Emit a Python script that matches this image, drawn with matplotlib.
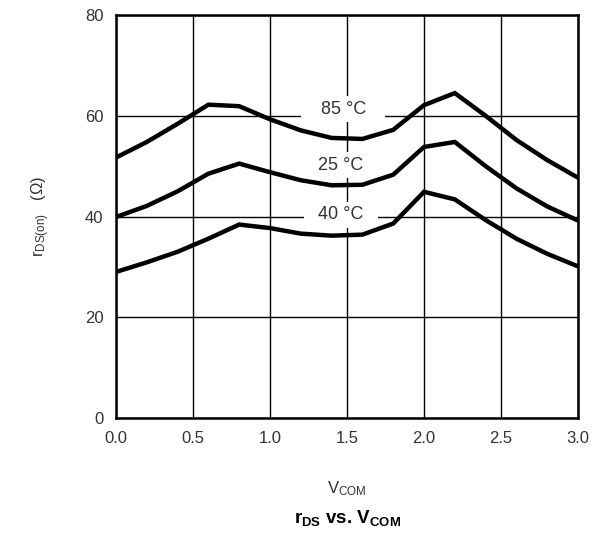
import matplotlib
matplotlib.use("Agg")
import matplotlib.pyplot as plt

plt.rcParams['font.family'] = ['Liberation Sans', 'DejaVu Sans']
plt.rcParams['mathtext.fontset'] = 'custom'
plt.rcParams['mathtext.rm'] = 'Liberation Sans'
plt.rcParams['mathtext.it'] = 'Liberation Sans'
plt.rcParams['mathtext.bf'] = 'Liberation Sans:bold'

# data
vcom = [0.0, 0.2, 0.4, 0.6, 0.8, 1.0, 1.2, 1.4, 1.6, 1.8, 2.0, 2.2, 2.4, 2.6, 2.8, 3.0]
r_85 = [51.7, 54.8, 58.4, 62.2, 61.9, 59.3, 57.1, 55.6, 55.4, 57.2, 62.1, 64.5, 60.0, 55.2, 51.2, 47.7]
r_25 = [39.9, 42.1, 45.0, 48.5, 50.5, 48.8, 47.2, 46.2, 46.3, 48.3, 53.8, 54.8, 50.0, 45.6, 42.0, 39.2]
r_m40 = [29.0, 30.9, 33.0, 35.6, 38.4, 37.7, 36.6, 36.2, 36.4, 38.6, 44.9, 43.4, 39.3, 35.6, 32.6, 30.1]

labels = ['   85 \u00b0C   ', ' 25 \u00b0C ', '  40 \u00b0C  ']
label_pos = [(1.475, 61.3), (1.46, 50.2), (1.46, 40.3)]

xtips = ['0.0', '0.5', '1.0', '1.5', '2.0', '2.5', '3.0']

fig = plt.figure(figsize=(5.93, 5.34), dpi=100)
ax = fig.add_axes([0.1956, 0.2172, 0.9747 - 0.1956, 0.9719 - 0.2172])

ax.grid(True, color='k', lw=1.0)
ax.set_axisbelow(True)

# curves on top of the label boxes
for ys in (r_85, r_25, r_m40):
    ax.plot(vcom, ys, color='k', lw=3.2, solid_joinstyle='miter', zorder=4)

for txt, (x, y) in zip(labels, label_pos):
    ax.text(x, y, txt, ha='center', va='center', fontsize=13, color='#333333',
            bbox=dict(facecolor='white', edgecolor='none', boxstyle='square,pad=0.25'), zorder=3)

ax.set_xlim(0, 3.0)
ax.set_ylim(0, 80)
ax.set_xticks([0, 0.5, 1.0, 1.5, 2.0, 2.5, 3.0])
ax.set_xticklabels(xtips)
ax.set_yticks([0, 20, 40, 60, 80])
ax.tick_params(length=0, labelsize=12, pad=9, colors='#333333')
for s in ax.spines.values():
    s.set_linewidth(1.8)
    s.set_zorder(5)

ax.set_ylabel(r'r$_{\mathregular{DS(on)}}$   ($\Omega$)', fontsize=12, labelpad=24, color='#333333')
ax.set_xlabel(r'V$_{\mathregular{COM}}$', fontsize=12, labelpad=24, color='#333333')
fig.text(0.5866, 0.012, r'r$_{\mathbf{DS}}$ vs. V$_{\mathbf{COM}}$', ha='center', va='bottom',
         fontsize=13.5, fontweight='bold')

fig.savefig('out.png', dpi=100)
